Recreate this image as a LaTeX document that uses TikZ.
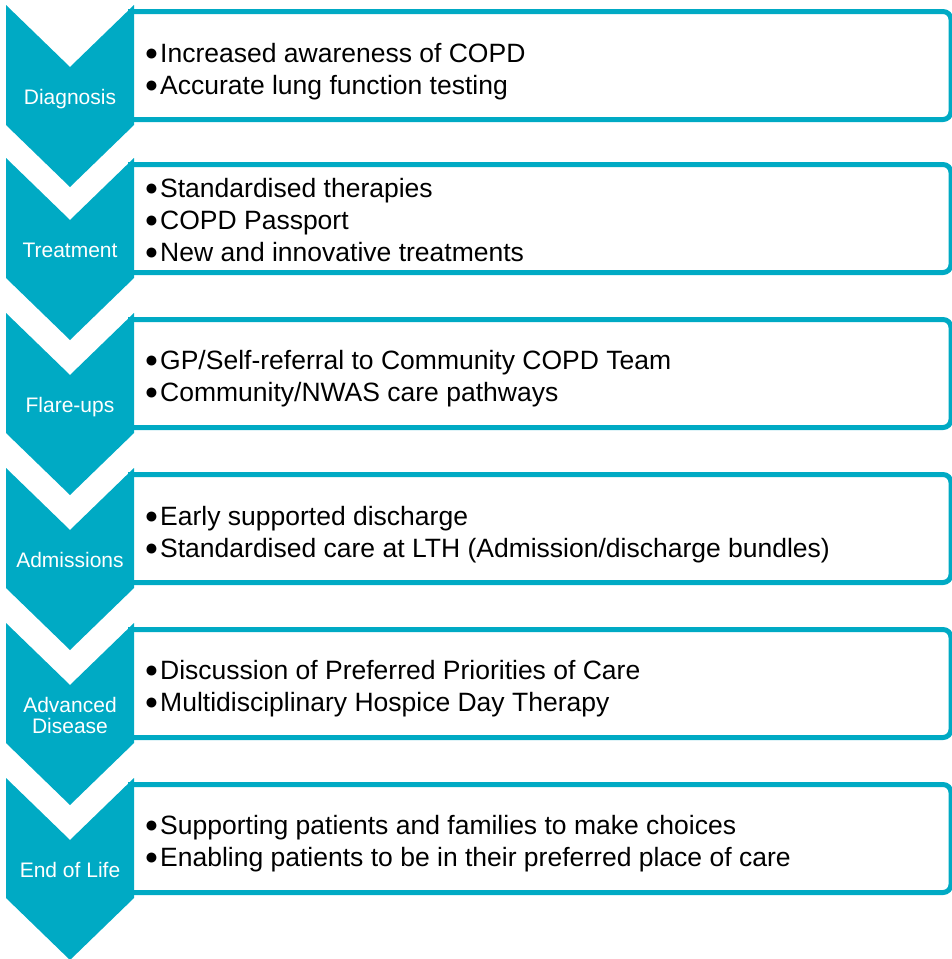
\documentclass[tikz,border=0pt]{standalone}
\usepackage{fontspec}
\setmainfont{Liberation Sans}
\definecolor{tealA}{RGB}{0,170,196}
\tikzset{
  chev/.style={fill=tealA, draw=none},
  itembox/.style={draw=tealA, line width=5pt, fill=white, rounded corners=8pt},
  lab/.style={text=white, font=\fontsize{21}{22}\selectfont, anchor=base, inner sep=0pt},
  item/.style={font=\fontsize{26.5}{32}\selectfont, anchor=base west, inner sep=0pt},
}
\newcommand\bul{\makebox[15pt][l]{\hspace{-0.5pt}\raisebox{1.3pt}{\fontsize{23}{23}\selectfont ●}}}
\newcommand\chevshape[1]{%
  \fill[chev] (6,#1) -- (70,#1+62) -- (134,#1) -- (134,#1+120) -- (70,#1+182) -- (6,#1+120) -- cycle;}
\newcommand\ibox[1]{%
  \draw[itembox] (128,#1+6.5) -- (951,#1+6.5) -- (951,#1+114.5) -- (128,#1+114.5);}
\begin{document}
\begin{tikzpicture}[x=1pt,y=-1pt]
\useasboundingbox (0,0) rectangle (952,959);
\clip (0,0) rectangle (952,959);
% boxes
\ibox{5}\ibox{158}\ibox{313}\ibox{468}\ibox{623}\ibox{778}
% chevrons
\chevshape{5}\chevshape{158}\chevshape{313}\chevshape{468}\chevshape{623}\chevshape{778}
% labels
\node[lab] (l1) at (70,104) {Diagnosis};
\node[lab] (l2) at (70,257) {Treatment};
\node[lab] (l3) at (70,412) {Flare-ups};
\node[lab] (l4) at (70,567) {Admissions};
\node[lab] (l5a) at (70,712) {Advanced};
\node[lab] (l5b) at (70,733) {Disease};
\node[lab] (l6) at (70,877) {End of Life};
% items
\node[item] (a1) at (145,62) {\bul Increased awareness of COPD};
\node[item] (a2) at (145,94) {\bul Accurate lung function testing};
\node[item] (b1) at (145,197) {\bul Standardised therapies};
\node[item] (b2) at (145,229) {\bul COPD Passport};
\node[item] (b3) at (145,261) {\bul New and innovative treatments};
\node[item] (c1) at (145,369) {\bul GP/Self-referral to Community COPD Team};
\node[item] (c2) at (145,401) {\bul Community/NWAS care pathways};
\node[item] (d1) at (145,525) {\bul Early supported discharge};
\node[item] (d2) at (145,557) {\bul Standardised care at LTH (Admission/discharge bundles)};
\node[item] (e1) at (145,679) {\bul Discussion of Preferred Priorities of Care};
\node[item] (e2) at (145,711) {\bul Multidisciplinary Hospice Day Therapy};
\node[item] (f1) at (145,834) {\bul Supporting patients and families to make choices};
\node[item] (f2) at (145,866) {\bul Enabling patients to be in their preferred place of care};
\end{tikzpicture}
\end{document}
